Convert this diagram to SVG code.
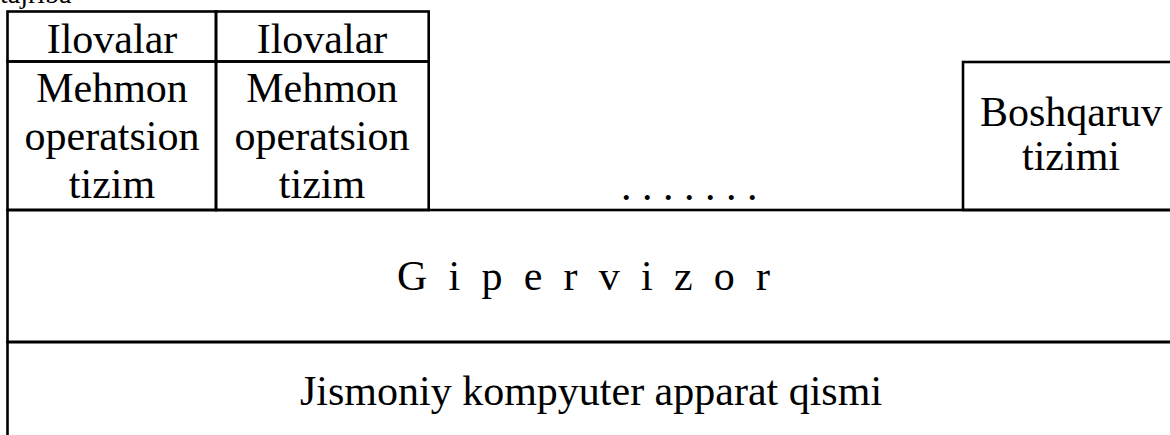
<svg xmlns="http://www.w3.org/2000/svg" width="1170" height="435" viewBox="0 0 1170 435">
<style>
  .box { fill: none; stroke: #000; stroke-width: 2.6; }
  .t { font-family: "Liberation Serif", "Times New Roman", serif; font-size: 42px; fill: #000; text-anchor: middle; }
  .cap { font-family: "Liberation Serif", "Times New Roman", serif; font-size: 28px; fill: #000; }
</style>
<rect width="1170" height="435" fill="#fff"/>
<text class="cap" x="0" y="3">tajriba</text>
<g id="app1">
  <rect class="box" x="7.5" y="11.5" width="208.5" height="50"/>
  <text class="t" x="112" y="53">Ilovalar</text>
</g>
<g id="app2">
  <rect class="box" x="216" y="11.5" width="212.7" height="50"/>
  <text class="t" x="322" y="53">Ilovalar</text>
</g>
<g id="guest1">
  <rect class="box" x="7.5" y="61.5" width="208.5" height="148.5"/>
  <text class="t" x="112" y="102">Mehmon</text>
  <text class="t" x="112" y="150">operatsion</text>
  <text class="t" x="112" y="198">tizim</text>
</g>
<g id="guest2">
  <rect class="box" x="216" y="61.5" width="212.7" height="148.5"/>
  <text class="t" x="322" y="102">Mehmon</text>
  <text class="t" x="322" y="150">operatsion</text>
  <text class="t" x="322" y="198">tizim</text>
</g>
<g id="more">
  <text class="t" x="621" y="200" style="text-anchor:start">. . . . . . .</text>
</g>
<g id="mgmt">
  <rect class="box" x="963" y="62" width="215" height="148"/>
  <text class="t" x="1071" y="126">Boshqaruv</text>
  <text class="t" x="1071" y="170">tizimi</text>
</g>
<g id="hypervisor">
  <rect class="box" x="7.5" y="210" width="1170" height="132"/>
  <text class="t" x="397" y="290" style="text-anchor:start" textLength="373" lengthAdjust="spacing">G i p e r v i z o r</text>
</g>
<g id="hardware">
  <rect class="box" x="7.5" y="342" width="1170" height="110"/>
  <text class="t" x="591" y="405">Jismoniy kompyuter apparat qismi</text>
</g>
<g id="connectors"></g>
</svg>
